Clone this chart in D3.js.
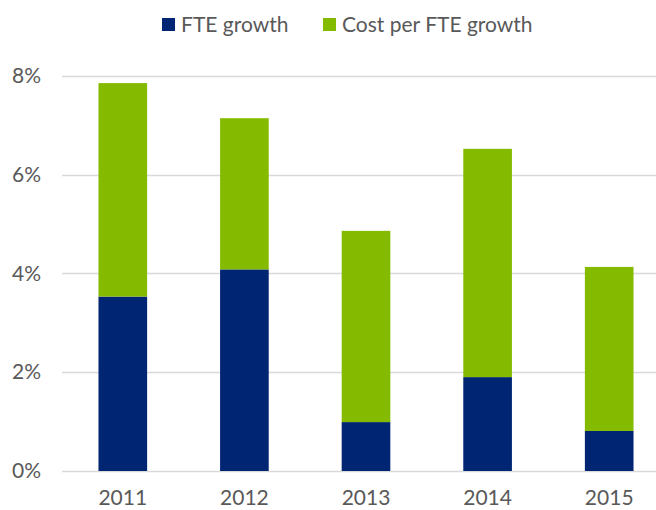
<!DOCTYPE html>
<html>
<head>
<meta charset="utf-8">
<script src="https://cdn.jsdelivr.net/npm/d3@7"></script>
<style>
  body { margin: 0; background: #fff; }
  text { font-family: Lato, "Open Sans", sans-serif; fill: #595959; }
</style>
</head>
<body>
<div id="chart"></div>
<script>
var svgWidth = 656;
var svgHeight = 510;

// data
var years = ["2011", "2012", "2013", "2014", "2015"];
var fteGrowth = [3.53, 4.08, 0.99, 1.90, 0.81];
var costPerFteGrowth = [4.32, 3.06, 3.87, 4.62, 3.32];
var seriesNames = ["FTE growth", "Cost per FTE growth"];
var seriesColors = ["#002673", "#84bb00"];
var yTicks = [0, 2, 4, 6, 8];

var svg = d3.select("#chart")
  .append("svg")
  .attr("width", svgWidth)
  .attr("height", svgHeight);

var table = years.map(function(y, i) {
  return { year: y, fte: fteGrowth[i], cost: costPerFteGrowth[i] };
});

var stack = d3.stack().keys(["fte", "cost"]);
var stacked = stack(table);

var xScale = d3.scaleBand()
  .domain(years)
  .range([62, 670])
  .paddingInner(0.6)
  .paddingOuter(0.3);

var yScale = d3.scaleLinear()
  .domain([0, 8])
  .range([471, 75.7]);

// gridlines
svg.append("g")
  .selectAll("line")
  .data(yTicks)
  .enter()
  .append("line")
  .attr("x1", 62)
  .attr("x2", svgWidth)
  .attr("y1", d => Math.round(yScale(d)) + 0.5)
  .attr("y2", d => Math.round(yScale(d)) + 0.5)
  .attr("stroke", "#d9d9d9")
  .attr("stroke-width", 1.3);

// y axis labels
var yAxis = svg.append("g")
  .attr("transform", "translate(41,0)")
  .call(d3.axisLeft(yScale).tickValues(yTicks).tickFormat(d => d + "%").tickSize(0).tickPadding(0));
yAxis.select(".domain").remove();
yAxis.selectAll("text")
  .attr("font-size", 21)
  .style("font-family", "Lato, sans-serif")
  .attr("fill", "#595959");

// bars
svg.append("g")
  .selectAll("g")
  .data(stacked)
  .enter()
  .append("g")
  .attr("fill", (d, i) => seriesColors[i])
  .selectAll("rect")
  .data(d => d)
  .enter()
  .append("rect")
  .attr("x", d => xScale(d.data.year))
  .attr("width", xScale.bandwidth())
  .attr("y", d => yScale(d[1]))
  .attr("height", d => yScale(d[0]) - yScale(d[1]));

// x axis labels
var xAxis = svg.append("g")
  .attr("transform", "translate(0,490)")
  .call(d3.axisBottom(xScale).tickSize(0).tickPadding(0));
xAxis.select(".domain").remove();
xAxis.selectAll("text")
  .attr("font-size", 21)
  .style("font-family", "Lato, sans-serif")
  .attr("fill", "#595959");

// legend
var legendX = [162, 323];
var legend = svg.append("g");
legend.selectAll("rect")
  .data(seriesNames)
  .enter()
  .append("rect")
  .attr("x", (d, i) => legendX[i])
  .attr("y", 18)
  .attr("width", 13)
  .attr("height", 13)
  .attr("fill", (d, i) => seriesColors[i]);
legend.selectAll("text")
  .data(seriesNames)
  .enter()
  .append("text")
  .attr("x", (d, i) => legendX[i] + 19)
  .attr("y", 32)
  .attr("font-size", 21)
  .text(d => d);
</script>
</body>
</html>
